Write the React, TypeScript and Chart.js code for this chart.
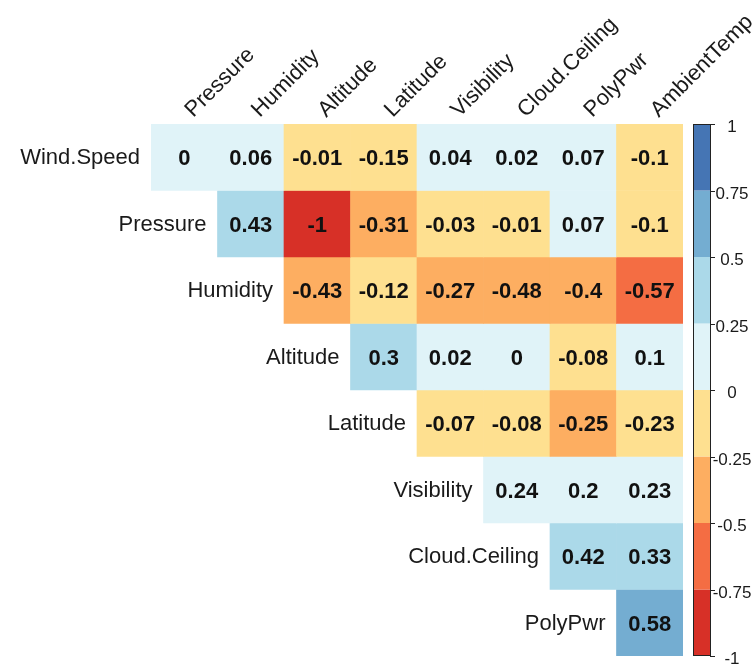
import React, { useEffect, useRef } from 'react';
import { Chart, registerables } from 'chart.js';

Chart.register(...registerables);

// ---- data ----
const columnNames = ['Pressure', 'Humidity', 'Altitude', 'Latitude', 'Visibility', 'Cloud.Ceiling', 'PolyPwr', 'AmbientTemp'];
const rowNames = ['Wind.Speed', 'Pressure', 'Humidity', 'Altitude', 'Latitude', 'Visibility', 'Cloud.Ceiling', 'PolyPwr'];

const windSpeedRow = [0, 0.06, -0.01, -0.15, 0.04, 0.02, 0.07, -0.1];
const pressureRow = [0.43, -1, -0.31, -0.03, -0.01, 0.07, -0.1];
const humidityRow = [-0.43, -0.12, -0.27, -0.48, -0.4, -0.57];
const altitudeRow = [0.3, 0.02, 0, -0.08, 0.1];
const latitudeRow = [-0.07, -0.08, -0.25, -0.23];
const visibilityRow = [0.24, 0.2, 0.23];
const cloudCeilingRow = [0.42, 0.33];
const polyPwrRow = [0.58];

const matrixRows = [windSpeedRow, pressureRow, humidityRow, altitudeRow, latitudeRow, visibilityRow, cloudCeilingRow, polyPwrRow];

const binBreaks = [-1, -0.75, -0.5, -0.25, 0, 0.25, 0.5, 0.75, 1];
const binColors = ['#d73027', '#f46d43', '#fdae61', '#fee090', '#e0f3f8', '#abd9e9', '#74add1', '#4575b4'];
const colorbarLabels = ['-1', '-0.75', '-0.5', '-0.25', '0', '0.25', '0.5', '0.75', '1'];

const FONT = '"Liberation Sans", Arial, sans-serif';

function colorFor(v: number): string {
  let idx: number;
  if (v < 0) idx = 3 - Math.floor(-v / 0.25 + 1e-9);
  else idx = 4 + Math.floor(v / 0.25 + 1e-9);
  idx = Math.max(0, Math.min(7, idx));
  return binColors[idx];
}

const corrPlugin = {
  id: 'corrText',
  afterDatasetsDraw(chart: any) {
    const ctx = chart.ctx as CanvasRenderingContext2D;
    const xs = chart.scales.x;
    const ys = chart.scales.y;
    const cb = chart.scales.cb;
    const area = chart.chartArea;
    const halfW = (xs.getPixelForValue(1) - xs.getPixelForValue(0)) / 2;
    ctx.save();

    // cell values
    ctx.fillStyle = '#111';
    ctx.font = `bold 22px ${FONT}`;
    ctx.textAlign = 'center';
    ctx.textBaseline = 'middle';
    matrixRows.forEach((row, i) => {
      row.forEach((v, k) => {
        const j = i + k;
        ctx.fillText(String(v), xs.getPixelForValue(j), ys.getPixelForValue(i) + 2);
      });
    });

    // row labels
    ctx.font = `22px ${FONT}`;
    ctx.textAlign = 'right';
    ctx.fillStyle = '#1a1a1a';
    rowNames.forEach((name, i) => {
      ctx.fillText(name, xs.getPixelForValue(i) - halfW - 11, ys.getPixelForValue(i) + 1);
    });

    // column labels (rotated 45°)
    ctx.textAlign = 'left';
    ctx.textBaseline = 'alphabetic';
    columnNames.forEach((name, j) => {
      ctx.save();
      ctx.translate(xs.getPixelForValue(j) + 9, area.top - 6);
      ctx.rotate(-Math.PI / 4);
      ctx.fillText(name, 0, 0);
      ctx.restore();
    });

    // colour bar
    const barL = area.right + 10;
    const barR = area.right + 28;
    for (let k = 0; k < binColors.length; k++) {
      const yTop = cb.getPixelForValue(binBreaks[k + 1]);
      const yBot = cb.getPixelForValue(binBreaks[k]);
      ctx.fillStyle = binColors[k];
      ctx.fillRect(barL, yTop, barR - barL, yBot - yTop);
    }
    ctx.strokeStyle = '#222';
    ctx.lineWidth = 1;
    ctx.strokeRect(barL + 0.5, cb.getPixelForValue(1) + 0.5, barR - barL - 1, cb.getPixelForValue(-1) - cb.getPixelForValue(1) - 1);
    ctx.font = `17px ${FONT}`;
    ctx.textAlign = 'center';
    ctx.textBaseline = 'middle';
    ctx.fillStyle = '#1a1a1a';
    binBreaks.forEach((b, k) => {
      const y = Math.round(cb.getPixelForValue(b)) + 0.5;
      ctx.beginPath();
      ctx.moveTo(barR - 1, y);
      ctx.lineTo(barR + 4, y);
      ctx.stroke();
      ctx.fillText(colorbarLabels[k], area.right + 49, y + 3);
    });

    ctx.restore();
  },
};

export default function App() {
  const canvasRef = useRef<HTMLCanvasElement | null>(null);

  useEffect(() => {
    const canvas = canvasRef.current;
    if (!canvas) return;
    const datasets = matrixRows.map((row, i) => ({
      label: rowNames[i],
      data: columnNames.map((_, j) => (j >= i ? [i - 0.5, i + 0.5] : null)),
      backgroundColor: columnNames.map((_, j) => (j >= i ? colorFor(row[j - i]) : 'rgba(0,0,0,0)')),
      borderWidth: 0,
      grouped: false,
      barPercentage: 1,
      categoryPercentage: 1,
    }));
    const chart = new Chart(canvas, {
      type: 'bar',
      data: { labels: columnNames, datasets: datasets as any },
      options: {
        responsive: false,
        animation: false,
        devicePixelRatio: 1,
        layout: { padding: { left: 151, top: 124, right: 71, bottom: 10 } },
        plugins: { legend: { display: false }, tooltip: { enabled: false } },
        scales: {
          x: { type: 'category', display: false, offset: true },
          y: { type: 'linear', display: false, min: -0.5, max: 7.5, reverse: true },
          cb: { type: 'linear', display: false, min: -1, max: 1, position: 'right' },
        },
      } as any,
      plugins: [corrPlugin],
    });
    return () => chart.destroy();
  }, []);

  return (
    <div style={{ position: 'fixed', left: 0, top: 0, width: 754, height: 666, background: '#fff' }}>
      <canvas ref={canvasRef} width={754} height={666} />
    </div>
  );
}
